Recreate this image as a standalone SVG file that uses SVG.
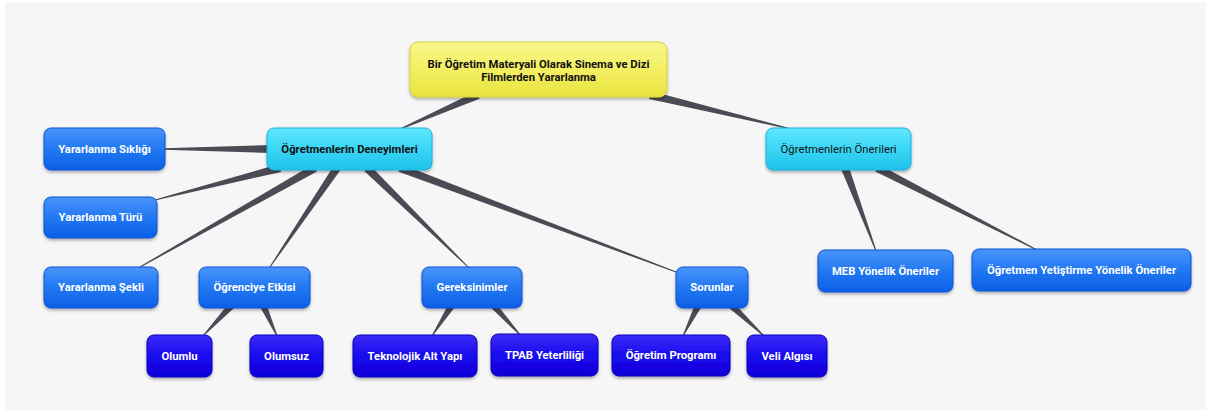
<svg xmlns="http://www.w3.org/2000/svg" width="1212" height="416" viewBox="0 0 1212 416">
<defs>
<linearGradient id="gY" x1="0" y1="0" x2="0" y2="1"><stop offset="0" stop-color="#f9f78e"/><stop offset="0.5" stop-color="#f3ef62"/><stop offset="1" stop-color="#e9e33e"/></linearGradient>
<linearGradient id="gC" x1="0" y1="0" x2="0" y2="1"><stop offset="0" stop-color="#5fe6fc"/><stop offset="0.5" stop-color="#3ad6f6"/><stop offset="1" stop-color="#1fc2ea"/></linearGradient>
<linearGradient id="gB" x1="0" y1="0" x2="0" y2="1"><stop offset="0" stop-color="#4a94fa"/><stop offset="0.5" stop-color="#2278f2"/><stop offset="1" stop-color="#0c5fe6"/></linearGradient>
<linearGradient id="gD" x1="0" y1="0" x2="0" y2="1"><stop offset="0" stop-color="#3a2cf6"/><stop offset="0.5" stop-color="#1a0aee"/><stop offset="1" stop-color="#0e00d6"/></linearGradient>
<filter id="sh" x="-10%" y="-20%" width="120%" height="150%"><feDropShadow dx="0" dy="2" stdDeviation="1.5" flood-color="#000" flood-opacity="0.3"/></filter>
</defs>
<style>
.y{fill:url(#gY);stroke:#d9d236;stroke-width:1}
.c{fill:url(#gC);stroke:#1cb0de;stroke-width:1}
.b{fill:url(#gB);stroke:#0b52d4;stroke-width:1}
.d{fill:url(#gD);stroke:#0a00b8;stroke-width:1}
rect{filter:url(#sh)}
text{font-family:Roboto,"Liberation Sans",sans-serif;font-size:11.3px;font-weight:bold;text-anchor:middle;dominant-baseline:central}
.w{fill:#ffffff}
.k{fill:#111111}
.n{font-weight:normal}
#connectors polygon{fill:#4b4b55}
</style>
<rect x="0" y="0" width="1212" height="416" fill="#ffffff" style="filter:none"/>
<rect x="5" y="2" width="1201" height="408" fill="#f6f6f6" style="filter:none"/>
<g id="connectors">
<polygon points="476.4,91.3 397.8,129.5 398.2,130.5 479.6,98.7"/>
<polygon points="649.1,98.9 794.9,130.5 795.1,129.5 650.9,91.1"/>
<polygon points="270,145 163,148.3 163,149.7 270,153"/>
<polygon points="279,164.1 154.9,199.5 155.1,200.5 281,171.9"/>
<polygon points="313,164.5 139.75,266.56 140.25,267.44 317,171.5"/>
<polygon points="333.7,165.8 269.6,266.7 270.4,267.3 340.3,170.2"/>
<polygon points="364.2,170.9 467.65,267.36 468.35,266.64 369.8,165.1"/>
<polygon points="398.6,171.7 675.8,272.5 676.2,271.5 401.4,164.3"/>
<polygon points="229.4,302.6 202.6,335.7 203.4,336.3 234.6,307.4"/>
<polygon points="259.8,306.4 276.5,336.2 277.5,335.8 266.2,303.6"/>
<polygon points="449.1,303.1 431.6,335.7 432.4,336.3 454.9,306.9"/>
<polygon points="490.4,307.3 520.6,336.3 521.4,335.7 495.6,302.7"/>
<polygon points="694.9,304.4 682.6,335.8 683.4,336.2 701.1,307.6"/>
<polygon points="729.6,308.6 763.7,336.4 764.3,335.6 734.4,303.5"/>
<polygon points="841.3,169.4 875.5,251.2 876.5,250.8 848.7,166.6"/>
<polygon points="875.2,171.6 1036.8,250.5 1037.2,249.5 878.8,164.4"/>
</g>
<g id="root"><rect class="y" x="410" y="42" width="257" height="55" rx="8"/><text class="k" x="538.5" y="64">Bir Öğretim Materyali Olarak Sinema ve Dizi</text><text class="k" x="538.5" y="77.5">Filmlerden Yararlanma</text></g>
<g id="deneyimleri"><rect class="c" x="267" y="128" width="165" height="42" rx="7"/><text class="k" x="349.5" y="149">Öğretmenlerin Deneyimleri</text></g>
<g id="oneriler"><rect class="c" x="766" y="128" width="145" height="42" rx="7"/><text class="k n" x="838.5" y="149">Öğretmenlerin Önerileri</text></g>
<g id="siklik"><rect class="b" x="44" y="128" width="121" height="42" rx="7"/><text class="w" x="104.5" y="149">Yararlanma Sıklığı</text></g>
<g id="tur"><rect class="b" x="44" y="197" width="113" height="41" rx="7"/><text class="w" x="100.5" y="217.5">Yararlanma Türü</text></g>
<g id="sekil"><rect class="b" x="44" y="267" width="114" height="41" rx="7"/><text class="w" x="101" y="287.5">Yararlanma Şekli</text></g>
<g id="etki"><rect class="b" x="199" y="267" width="111" height="41" rx="7"/><text class="w" x="254.5" y="287.5">Öğrenciye Etkisi</text></g>
<g id="gereksinim"><rect class="b" x="422" y="267" width="100" height="41" rx="7"/><text class="w" x="472" y="287.5">Gereksinimler</text></g>
<g id="sorunlar"><rect class="b" x="676" y="267" width="72" height="41" rx="7"/><text class="w" x="712" y="287.5">Sorunlar</text></g>
<g id="meb"><rect class="b" x="818" y="250" width="135" height="42" rx="7"/><text class="w" x="885.5" y="271">MEB Yönelik Öneriler</text></g>
<g id="yetistirme"><rect class="b" x="972" y="249" width="219" height="42" rx="7"/><text class="w" x="1081.5" y="270">Öğretmen Yetiştirme Yönelik Öneriler</text></g>
<g id="olumlu"><rect class="d" x="147" y="335" width="65" height="42" rx="7"/><text class="w" x="179.5" y="356">Olumlu</text></g>
<g id="olumsuz"><rect class="d" x="250" y="335" width="73" height="42" rx="7"/><text class="w" x="286.5" y="356">Olumsuz</text></g>
<g id="teknoloji"><rect class="d" x="353" y="335" width="124" height="42" rx="7"/><text class="w" x="415" y="356">Teknolojik Alt Yapı</text></g>
<g id="tpab"><rect class="d" x="491" y="334" width="107" height="42" rx="7"/><text class="w" x="544.5" y="355">TPAB Yeterliliği</text></g>
<g id="program"><rect class="d" x="612" y="335" width="118" height="41" rx="7"/><text class="w" x="671" y="355.5">Öğretim Programı</text></g>
<g id="veli"><rect class="d" x="747" y="335" width="80" height="42" rx="7"/><text class="w" x="787" y="356">Veli Algısı</text></g>
</svg>
